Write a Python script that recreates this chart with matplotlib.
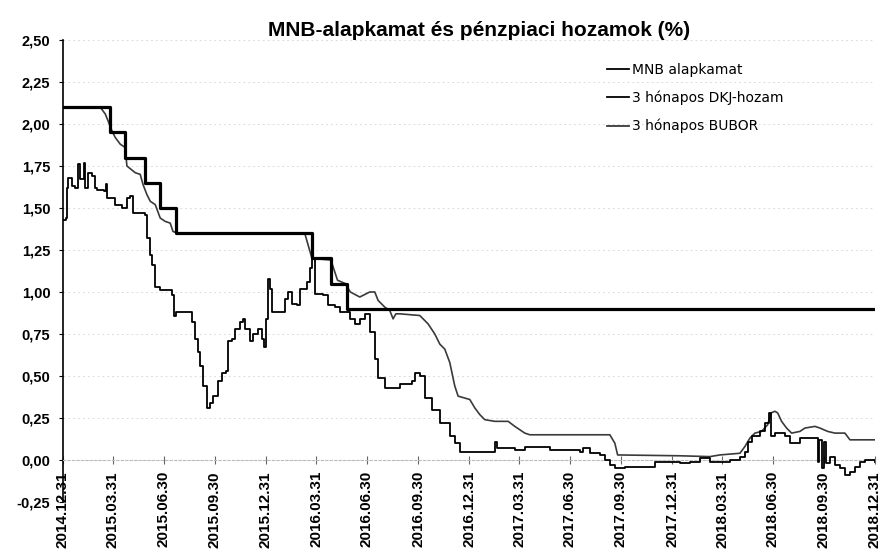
import pandas as pd
import matplotlib.pyplot as plt

# --- data ---
mnb_dates = ["2014-12-31", "2015-03-25", "2015-04-22", "2015-05-27", "2015-06-24",
             "2015-07-22", "2016-03-23", "2016-04-27", "2016-05-25", "2018-12-31"]
mnb_vals = [2.10, 1.95, 1.80, 1.65, 1.50, 1.35, 1.20, 1.05, 0.90, 0.90]

dkj_dates = ["2014-12-31", "2015-01-05", "2015-01-07", "2015-01-09", "2015-01-16", "2015-01-22",
             "2015-01-27", "2015-01-31", "2015-02-07", "2015-02-09", "2015-02-14", "2015-02-21",
             "2015-02-27", "2015-03-02", "2015-03-15", "2015-03-18", "2015-03-20", "2015-04-04",
             "2015-04-16", "2015-04-25", "2015-05-01", "2015-05-06", "2015-05-28", "2015-05-31",
             "2015-06-06", "2015-06-09", "2015-06-15", "2015-06-24", "2015-07-15", "2015-07-19",
             "2015-07-22", "2015-08-07", "2015-08-20", "2015-08-25", "2015-08-31", "2015-09-03",
             "2015-09-09", "2015-09-16", "2015-09-21", "2015-09-27", "2015-10-06", "2015-10-13",
             "2015-10-20", "2015-10-24", "2015-10-31", "2015-11-05", "2015-11-14", "2015-11-20",
             "2015-11-23", "2015-12-02", "2015-12-08", "2015-12-17", "2015-12-24", "2015-12-28",
             "2015-12-31", "2016-01-04", "2016-01-07", "2016-01-11", "2016-01-25", "2016-02-03",
             "2016-02-09", "2016-02-16", "2016-02-25", "2016-03-01", "2016-03-10", "2016-03-14",
             "2016-03-19", "2016-03-23", "2016-03-28", "2016-04-12", "2016-04-21", "2016-05-03",
             "2016-05-12", "2016-05-30", "2016-06-08", "2016-06-17", "2016-06-26", "2016-07-05",
             "2016-07-14", "2016-07-20", "2016-08-01", "2016-08-14", "2016-08-28", "2016-09-19",
             "2016-09-24", "2016-10-03", "2016-10-12", "2016-10-25", "2016-11-08", "2016-11-26",
             "2016-12-05", "2016-12-14", "2017-02-13", "2017-02-15", "2017-02-19", "2017-03-23",
             "2017-04-10", "2017-05-07", "2017-05-25", "2017-07-18", "2017-07-23", "2017-08-05",
             "2017-08-23", "2017-09-01", "2017-09-10", "2017-09-19", "2017-10-07", "2017-11-03",
             "2017-11-30", "2018-01-14", "2018-02-01", "2018-02-19", "2018-03-09", "2018-04-14",
             "2018-05-02", "2018-05-11", "2018-05-16", "2018-05-24", "2018-06-07", "2018-06-16",
             "2018-06-23", "2018-06-27", "2018-07-04", "2018-07-22", "2018-07-31", "2018-08-18",
             "2018-09-16", "2018-09-19", "2018-09-21", "2018-09-26", "2018-09-30", "2018-10-04",
             "2018-10-11", "2018-10-20", "2018-10-29", "2018-11-07", "2018-11-16", "2018-11-25",
             "2018-12-04", "2018-12-13", "2018-12-31"]
dkj_vals = [1.43, 1.44, 1.62, 1.68, 1.63, 1.62,
            1.76, 1.67, 1.77, 1.62, 1.71, 1.69,
            1.62, 1.61, 1.60, 1.64, 1.56, 1.52,
            1.50, 1.56, 1.57, 1.47, 1.46, 1.32,
            1.22, 1.16, 1.03, 1.01, 0.98, 0.86,
            0.88, 0.88, 0.82, 0.72, 0.64, 0.56,
            0.44, 0.31, 0.34, 0.38, 0.47, 0.52,
            0.53, 0.71, 0.72, 0.78, 0.82, 0.84,
            0.78, 0.71, 0.75, 0.78, 0.72, 0.67,
            0.84, 1.08, 1.02, 0.88, 0.88, 0.96,
            1.00, 0.93, 0.92, 1.02, 1.02, 1.06,
            1.14, 1.20, 0.99, 0.98, 0.92, 0.91,
            0.88, 0.84, 0.81, 0.84, 0.87, 0.76,
            0.60, 0.49, 0.43, 0.43, 0.45, 0.47,
            0.52, 0.50, 0.37, 0.30, 0.22, 0.14,
            0.10, 0.05, 0.05, 0.11, 0.07, 0.06,
            0.08, 0.08, 0.06, 0.05, 0.07, 0.04,
            0.03, 0.00, -0.03, -0.05, -0.04, -0.04,
            -0.01, -0.02, -0.01, 0.01, -0.01, 0.00,
            0.02, 0.05, 0.11, 0.14, 0.17, 0.22,
            0.28, 0.14, 0.16, 0.14, 0.10, 0.13,
            0.13, -0.01, 0.12, -0.05, 0.11, -0.02,
            0.02, -0.03, -0.05, -0.09, -0.07, -0.04,
            -0.01, 0.00, -0.01]

bubor_dates = ["2014-12-31", "2015-03-08", "2015-03-17", "2015-03-22", "2015-03-29", "2015-04-04",
               "2015-04-13", "2015-04-22", "2015-04-25", "2015-05-10", "2015-05-19", "2015-05-24",
               "2015-05-31", "2015-06-06", "2015-06-15", "2015-06-24", "2015-07-03", "2015-07-12",
               "2015-07-17", "2015-07-26", "2016-03-10", "2016-03-23", "2016-04-26", "2016-05-08",
               "2016-05-22", "2016-05-31", "2016-06-17", "2016-07-05", "2016-07-14", "2016-07-20",
               "2016-08-01", "2016-08-10", "2016-08-16", "2016-08-21", "2016-08-28", "2016-10-03",
               "2016-10-18", "2016-10-30", "2016-11-08", "2016-11-17", "2016-11-26", "2016-12-05",
               "2016-12-11", "2017-01-01", "2017-01-10", "2017-01-19", "2017-01-28", "2017-02-15",
               "2017-03-11", "2017-03-23", "2017-04-10", "2017-04-19", "2017-09-10", "2017-09-19",
               "2017-09-24", "2018-01-14", "2018-03-09", "2018-03-27", "2018-05-02", "2018-05-11",
               "2018-05-20", "2018-05-29", "2018-06-10", "2018-06-21", "2018-06-27", "2018-07-04",
               "2018-07-09", "2018-07-16", "2018-07-25", "2018-08-03", "2018-08-18", "2018-08-27",
               "2018-09-14", "2018-09-23", "2018-10-07", "2018-10-20", "2018-11-07", "2018-11-16",
               "2018-12-31"]
bubor_vals = [2.10, 2.10, 2.06, 2.02, 1.96, 1.92,
              1.88, 1.86, 1.75, 1.71, 1.70, 1.64,
              1.58, 1.54, 1.52, 1.44, 1.42, 1.41,
              1.36, 1.35, 1.35, 1.20, 1.19, 1.07,
              1.05, 1.00, 0.97, 1.00, 1.00, 0.95,
              0.91, 0.89, 0.84, 0.87, 0.87, 0.86,
              0.81, 0.75, 0.69, 0.66, 0.58, 0.44,
              0.38, 0.36, 0.31, 0.27, 0.24, 0.23,
              0.23, 0.20, 0.16, 0.15, 0.15, 0.10,
              0.03, 0.025, 0.02, 0.03, 0.04, 0.08,
              0.13, 0.16, 0.17, 0.21, 0.28, 0.29,
              0.28, 0.23, 0.19, 0.16, 0.17, 0.19,
              0.20, 0.19, 0.17, 0.16, 0.16, 0.12,
              0.12]

tick_dates = ["2014-12-31", "2015-03-31", "2015-06-30", "2015-09-30", "2015-12-31",
              "2016-03-31", "2016-06-30", "2016-09-30", "2016-12-31", "2017-03-31",
              "2017-06-30", "2017-09-30", "2017-12-31", "2018-03-31", "2018-06-30",
              "2018-09-30", "2018-12-31"]
y_ticks = [-0.25, 0.0, 0.25, 0.5, 0.75, 1.0, 1.25, 1.5, 1.75, 2.0, 2.25, 2.5]

FONT = "Liberation Sans"

fig = plt.figure(figsize=(8.82, 5.6), dpi=100)
ax = fig.add_axes([0.0714, 0.1036, 0.9206, 0.825])

ax.plot(pd.to_datetime(bubor_dates), bubor_vals, color="#3a3a3a", lw=1.2,
        label="3 hónapos BUBOR", zorder=2)
ax.plot(pd.to_datetime(dkj_dates), dkj_vals, color="black", lw=1.3,
        drawstyle="steps-post", label="3 hónapos DKJ-hozam", zorder=3)
ax.plot(pd.to_datetime(mnb_dates), mnb_vals, color="black", lw=2.3,
        drawstyle="steps-post", label="MNB alapkamat", zorder=4)

# spine position first: it resets the tick objects
ax.spines["top"].set_visible(False)
ax.spines["right"].set_visible(False)
ax.spines["bottom"].set_position(("data", 0))
ax.spines["bottom"].set_color("#bbbbbb")
ax.spines["bottom"].set_linestyle((0, (2, 2)))
ax.spines["left"].set_color("black")
ax.spines["left"].set_linewidth(1.2)

ax.set_xlim(pd.Timestamp("2014-12-31"), pd.Timestamp("2018-12-31"))
ax.set_ylim(-0.25, 2.5)

ax.set_yticks(y_ticks)
ax.set_yticklabels([f"{v:.2f}".replace(".", ",") for v in y_ticks],
                   fontfamily=FONT, fontweight="bold", fontsize=10.5)
ticks = pd.to_datetime(tick_dates)
ax.set_xticks(ticks)
ax.set_xticklabels([d.strftime("%Y.%m.%d") for d in ticks], rotation=90,
                   fontfamily=FONT, fontweight="bold", fontsize=11)

ax.tick_params(axis="y", direction="out", length=3, pad=6, colors="black")
ax.tick_params(axis="x", direction="inout", length=6, pad=5, color="#666666",
               labelcolor="black")
ax.grid(axis="y", color="#dcdcdc", linestyle=(0, (2, 3)), linewidth=0.7)
ax.set_axisbelow(True)

fig.text(0.543, 0.946, "MNB-alapkamat és pénzpiaci hozamok (%)", ha="center",
         va="center", fontfamily=FONT, fontweight="bold", fontsize=15)

handles, labels = ax.get_legend_handles_labels()
ax.legend(handles[::-1], labels[::-1], loc="upper left",
          bbox_to_anchor=(0.688, 0.888), bbox_transform=fig.transFigure,
          frameon=False, borderpad=0, borderaxespad=0, handlelength=1.6,
          handletextpad=0.2, labelspacing=1.0,
          prop={"family": "DejaVu Sans", "size": 10})
for line in ax.get_legend().get_lines():
    line.set_linewidth(1.3)

fig.savefig("out.png", dpi=100)
